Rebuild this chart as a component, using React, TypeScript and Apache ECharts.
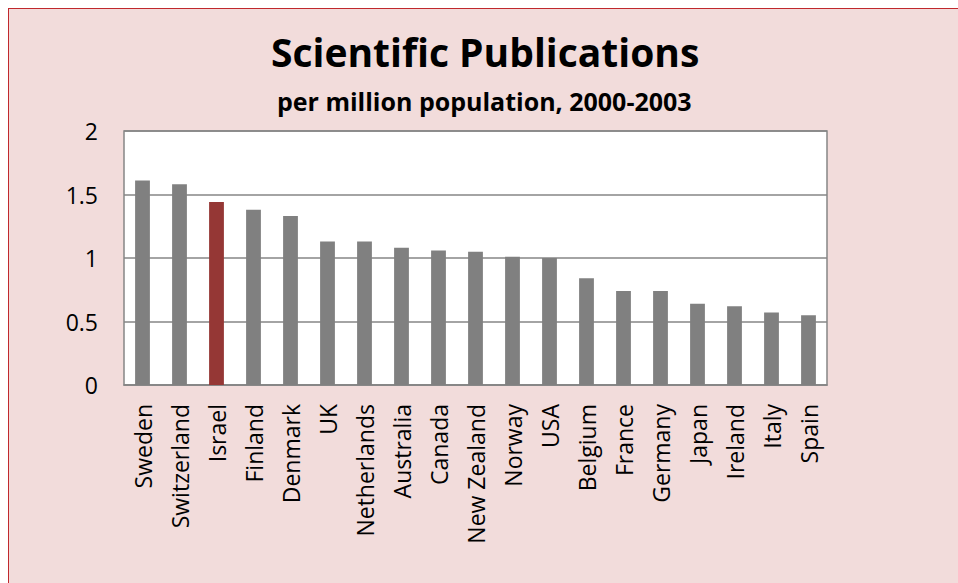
import React, { useEffect, useRef } from "react";
import * as echarts from "echarts";

const categories = [
  "Sweden", "Switzerland", "Israel", "Finland", "Denmark", "UK", "Netherlands",
  "Australia", "Canada", "New Zealand", "Norway", "USA", "Belgium", "France",
  "Germany", "Japan", "Ireland", "Italy", "Spain",
];
const values = [
  1.61, 1.58, 1.44, 1.38, 1.33, 1.13, 1.13, 1.08, 1.06, 1.05, 1.01, 1.0,
  0.84, 0.74, 0.74, 0.64, 0.62, 0.57, 0.55,
];
const highlighted = ["Israel"];
const yTicks = [0, 0.5, 1, 1.5, 2];

const titleText = "Scientific Publications";
const subtitleText = "per million population, 2000-2003";

const FONT = "'Open Sans', 'Noto Sans', sans-serif";

export default function App() {
  const ref = useRef<HTMLDivElement>(null);
  useEffect(() => {
    if (!ref.current) return;
    const chart = echarts.init(ref.current, undefined, { renderer: "svg" });
    chart.setOption({
      animation: false,
      backgroundColor: "#f2dcdb",
      title: [
        {
          text: titleText,
          left: 257,
          top: 18,
          textStyle: { fontFamily: FONT, fontWeight: "bold", fontSize: 39, color: "#000" },
        },
        {
          text: subtitleText,
          left: 263,
          top: 74,
          textStyle: { fontFamily: FONT, fontWeight: "bold", fontSize: 25, color: "#000" },
        },
      ],
      grid: {
        left: 115,
        top: 122,
        width: 703,
        height: 254,
        show: true,
        backgroundColor: "#ffffff",
        borderColor: "#868686",
        borderWidth: 1.5,
      },
      xAxis: {
        type: "category",
        data: categories,
        axisLine: { show: true, lineStyle: { color: "#868686", width: 1.5 } },
        axisTick: { show: false },
        axisLabel: {
          rotate: 90,
          margin: 19,
          fontFamily: FONT,
          fontSize: 23,
          color: "#000",
          interval: 0,
        },
      },
      yAxis: {
        type: "value",
        min: yTicks[0],
        max: yTicks[yTicks.length - 1],
        interval: 0.5,
        axisLine: { show: false },
        axisTick: { show: false },
        splitLine: { show: true, lineStyle: { color: "#868686", width: 1.5 } },
        axisLabel: {
          margin: 26,
          fontFamily: FONT,
          fontSize: 23,
          color: "#000",
        },
      },
      series: [
        {
          type: "bar",
          barWidth: "40%",
          data: values.map((v, i) => ({
            value: v,
            itemStyle: {
              color: highlighted.includes(categories[i]) ? "#953735" : "#808080",
            },
          })),
        },
      ],
    });
    return () => chart.dispose();
  }, []);
  return (
    <div
      style={{
        position: "fixed",
        left: 8,
        top: 8,
        width: 960,
        height: 590,
        borderTop: "1px solid #c0282d",
        borderLeft: "1px solid #c0282d",
        boxSizing: "border-box",
        overflow: "hidden",
      }}
    >
      <div ref={ref} style={{ width: 959, height: 589 }} />
    </div>
  );
}
